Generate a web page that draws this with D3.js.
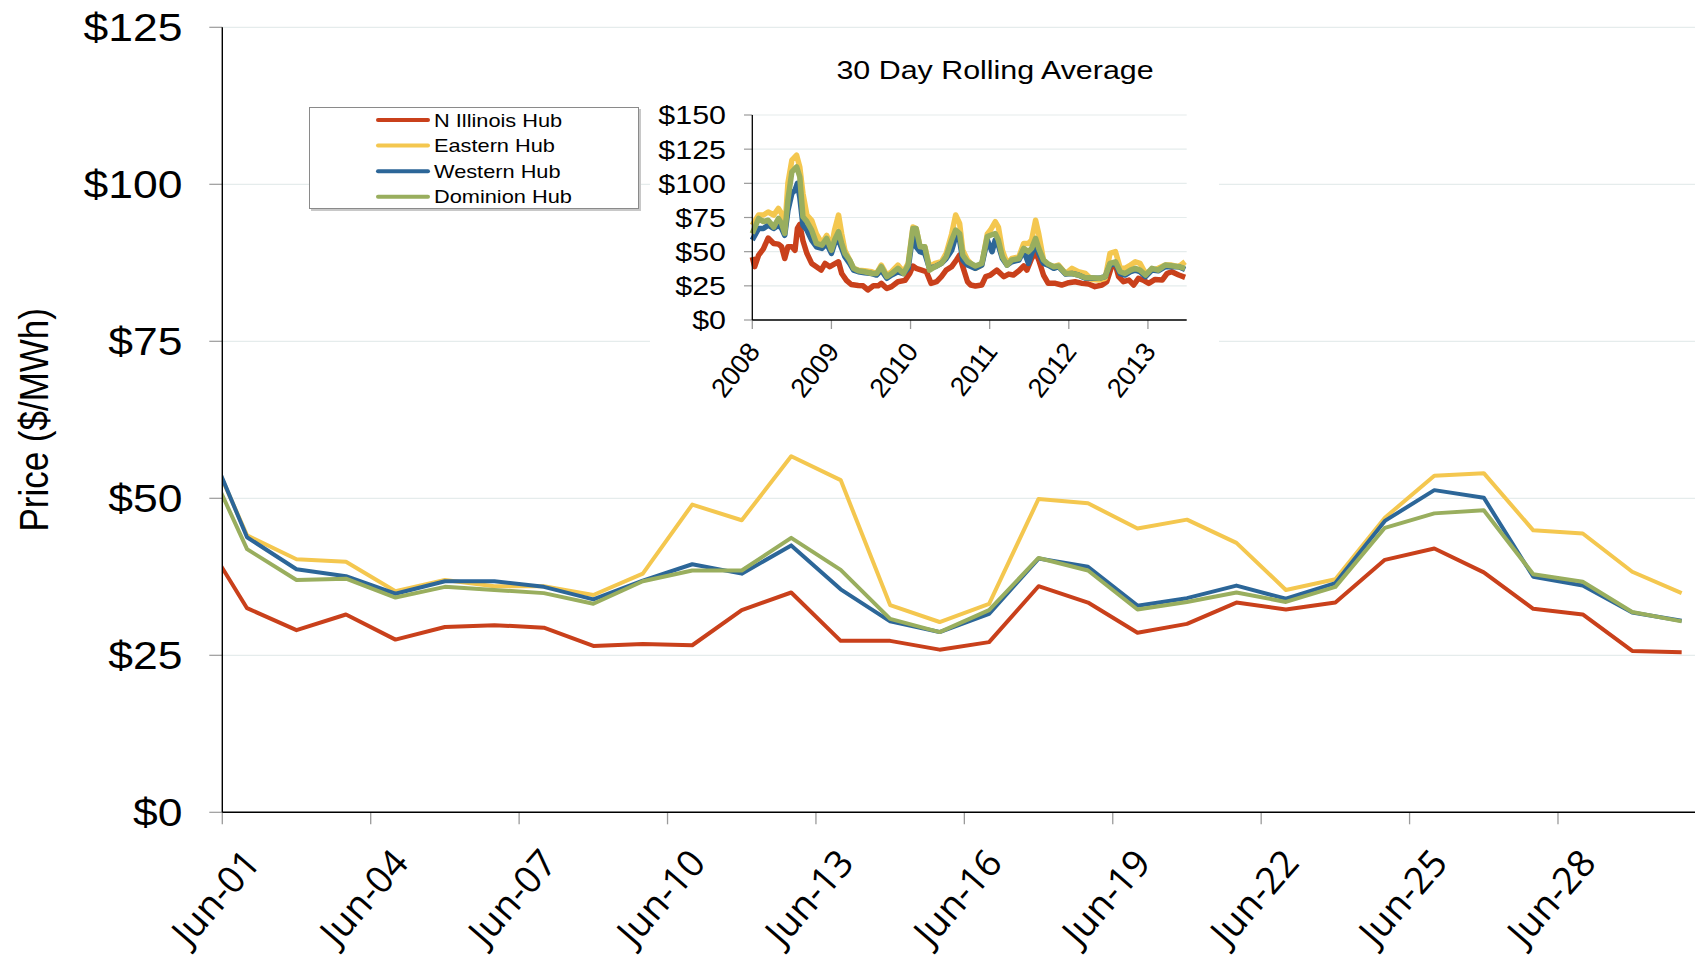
<!DOCTYPE html>
<html>
<head>
<meta charset="utf-8">
<script src="https://cdn.jsdelivr.net/npm/d3@7"></script>
<style>
  body { margin: 0; background: #fff; }
  svg { display: block; }
</style>
</head>
<body>
<svg id="chart"></svg>
<script>

// daily prices, June
var days = ["Jun-01","Jun-02","Jun-03","Jun-04","Jun-05","Jun-06","Jun-07","Jun-08","Jun-09","Jun-10",
  "Jun-11","Jun-12","Jun-13","Jun-14","Jun-15","Jun-16","Jun-17","Jun-18","Jun-19","Jun-20",
  "Jun-21","Jun-22","Jun-23","Jun-24","Jun-25","Jun-26","Jun-27","Jun-28","Jun-29","Jun-30"]

// value of May-31 (only the part after the axis shows)
var leadDay = "May-31"
var leadValues = [45.3, 61.9, 62.6, 59.1]

var nIllinois = [32.5, 29.0, 31.5, 27.5, 29.5, 29.8, 29.4, 26.5, 26.8, 26.6, 32.2, 35.0, 27.3, 27.3, 25.9,
  27.1, 36.0, 33.4, 28.6, 30.0, 33.4, 32.3, 33.4, 40.2, 42.0, 38.2, 32.4, 31.5, 25.7, 25.5]
var eastern = [44.1, 40.3, 39.9, 35.2, 37.0, 36.0, 36.0, 34.6, 38.0, 49.0, 46.5, 56.7, 52.9, 33.0, 30.3,
  33.2, 49.9, 49.2, 45.2, 46.6, 42.9, 35.4, 37.1, 46.9, 53.6, 54.0, 44.9, 44.4, 38.3, 34.9]
var western = [43.8, 38.7, 37.6, 34.8, 36.8, 36.8, 35.9, 33.9, 36.9, 39.5, 38.0, 42.5, 35.5, 30.4, 28.7,
  31.6, 40.4, 39.1, 32.9, 34.1, 36.1, 34.0, 36.5, 46.4, 51.3, 50.1, 37.5, 36.1, 31.8, 30.5]
var dominion = [41.9, 37.0, 37.2, 34.2, 35.9, 35.4, 34.9, 33.2, 36.8, 38.5, 38.5, 43.7, 38.6, 30.8, 28.7,
  32.2, 40.5, 38.5, 32.3, 33.5, 35.0, 33.5, 35.9, 45.3, 47.6, 48.1, 37.9, 36.7, 31.9, 30.4]

var hubNames = ["N Illinois Hub", "Eastern Hub", "Western Hub", "Dominion Hub"]
var hubColors = ["#C9401B", "#F4C74F", "#2C6698", "#99AE5E"]
var yTicks = [0, 25, 50, 75, 100, 125]

// 30 day rolling average, [year, $/MWh]
var insetNIllinois = [[2008.00,46],[2008.03,39],[2008.08,47.5],[2008.14,52],[2008.20,60],[2008.27,56],[2008.33,55.5],
  [2008.37,53.6],[2008.41,45],[2008.45,53.6],[2008.50,53.6],[2008.54,51],[2008.57,67],[2008.60,70],[2008.64,58],
  [2008.69,48.7],[2008.75,41.4],[2008.81,39],[2008.87,36.5],[2008.92,41.4],[2008.98,39],[2009.04,41],[2009.09,42.6],
  [2009.13,34],[2009.19,29],[2009.25,26],[2009.34,25.3],[2009.40,25],[2009.46,22],[2009.53,25],[2009.59,25],
  [2009.63,26.8],[2009.70,23],[2009.76,24.4],[2009.84,28],[2009.93,29],[2009.99,34],[2010.03,39.5],[2010.07,37.8],
  [2010.14,36.5],[2010.20,35.3],[2010.26,26.8],[2010.33,28],[2010.39,31.7],[2010.45,36.5],[2010.52,39],[2010.58,43.9],
  [2010.62,47.5],[2010.66,39],[2010.72,28],[2010.76,25.6],[2010.82,24.9],[2010.90,25.6],[2010.95,31.7],[2011.01,32.9],
  [2011.09,36.5],[2011.18,31.7],[2011.24,33.6],[2011.30,32.9],[2011.37,36],[2011.43,39.5],[2011.47,36.5],[2011.53,45],
  [2011.58,50],[2011.62,43.9],[2011.68,32.9],[2011.74,26.8],[2011.83,26.8],[2011.91,25.6],[2012.00,27.3],[2012.08,28],
  [2012.17,26.8],[2012.25,26.3],[2012.33,24.4],[2012.42,25.6],[2012.48,28],[2012.54,39],[2012.59,40.2],[2012.63,31.7],
  [2012.69,28],[2012.76,29.2],[2012.82,25.6],[2012.88,30.5],[2012.94,29.2],[2013.01,26.8],[2013.09,29.7],[2013.18,29.2],
  [2013.24,34],[2013.30,35.3],[2013.39,32.9],[2013.47,31.2]]
var insetEastern = [[2008.00,69.4],[2008.08,76.8],[2008.14,76.8],[2008.20,79],[2008.27,76.8],[2008.33,81.6],[2008.37,78],
  [2008.41,65.8],[2008.45,100],[2008.50,117],[2008.56,120.6],[2008.60,112],[2008.64,92.6],[2008.69,76.8],[2008.75,73],
  [2008.81,63],[2008.88,56],[2008.94,62],[2009.00,53.6],[2009.04,65.8],[2009.09,76.8],[2009.13,63],[2009.17,51],
  [2009.23,43.9],[2009.28,37.8],[2009.34,36.5],[2009.42,36],[2009.51,35.3],[2009.57,34],[2009.63,40.2],[2009.70,32.9],
  [2009.76,35.3],[2009.84,40.2],[2009.91,35.3],[2009.97,41.4],[2010.03,68],[2010.07,67],[2010.12,53.6],[2010.18,53.6],
  [2010.24,39],[2010.31,41.4],[2010.39,42.6],[2010.45,48.7],[2010.52,63],[2010.57,76.8],[2010.62,70.7],[2010.66,51],
  [2010.72,43.9],[2010.82,37.8],[2010.90,40.2],[2010.97,63],[2011.01,65.8],[2011.07,71.9],[2011.11,68],[2011.16,51],
  [2011.22,41.4],[2011.28,45],[2011.37,46.3],[2011.43,56],[2011.49,56],[2011.53,58.5],[2011.58,73],[2011.62,63],
  [2011.68,43.9],[2011.74,40.2],[2011.81,39],[2011.87,40.2],[2011.96,34],[2012.04,37.8],[2012.12,35.3],[2012.21,34],
  [2012.29,29.7],[2012.38,29.2],[2012.46,30.5],[2012.52,48.7],[2012.59,50],[2012.65,37.8],[2012.71,37.8],[2012.78,40.2],
  [2012.84,42.6],[2012.90,41.4],[2012.97,34],[2013.05,36.5],[2013.13,37.8],[2013.22,40.2],[2013.30,40.2],[2013.39,39],
  [2013.47,42.6]]
var insetWestern = [[2008.00,58.5],[2008.08,67],[2008.14,67],[2008.20,69.4],[2008.27,67],[2008.33,69.4],[2008.37,67],
  [2008.41,62],[2008.45,80],[2008.50,92.6],[2008.54,95],[2008.57,100],[2008.60,90],[2008.64,69.4],[2008.69,65.8],
  [2008.75,58.5],[2008.81,53.6],[2008.88,52.4],[2008.94,56],[2009.00,48.7],[2009.04,56],[2009.09,58.5],[2009.13,52.4],
  [2009.17,46.3],[2009.23,41.4],[2009.28,36.5],[2009.34,35.3],[2009.42,34.6],[2009.51,34],[2009.57,32.9],[2009.63,36.5],
  [2009.70,30.5],[2009.76,32.9],[2009.84,35.3],[2009.91,34],[2009.97,37.8],[2010.03,63],[2010.07,53.6],[2010.12,50],
  [2010.18,48.7],[2010.24,37.8],[2010.31,39],[2010.39,41.4],[2010.45,45],[2010.52,51],[2010.57,61],[2010.62,58.5],
  [2010.66,43.9],[2010.72,40.2],[2010.82,37.8],[2010.90,40.2],[2010.97,58.5],[2011.03,50],[2011.07,58.5],[2011.11,54.8],
  [2011.16,45],[2011.22,40.2],[2011.28,42.6],[2011.37,43.9],[2011.43,51],[2011.49,41.4],[2011.53,48.7],[2011.58,56],
  [2011.62,48.7],[2011.68,41.4],[2011.74,40.2],[2011.81,37.8],[2011.87,39],[2011.96,33.6],[2012.04,34],[2012.12,32.9],
  [2012.21,30.5],[2012.29,30.5],[2012.38,30.5],[2012.46,31.7],[2012.52,40.2],[2012.59,41.4],[2012.65,34],[2012.71,32.9],
  [2012.78,35.3],[2012.84,36.5],[2012.90,35.3],[2012.97,31.7],[2013.05,36.5],[2013.13,36],[2013.22,39],[2013.30,39],
  [2013.39,39],[2013.47,37]]
var insetDominion = [[2008.00,63.3],[2008.08,74.3],[2008.14,72],[2008.20,73],[2008.27,68],[2008.33,74.3],[2008.37,70.7],
  [2008.41,63.3],[2008.45,87.7],[2008.50,108.4],[2008.56,112],[2008.60,104.8],[2008.64,75.5],[2008.69,72],[2008.75,65.8],
  [2008.81,56],[2008.88,54.8],[2008.94,59.7],[2009.00,51],[2009.04,58.5],[2009.09,64.6],[2009.13,56],[2009.17,48.7],
  [2009.23,43.9],[2009.28,37.8],[2009.34,36],[2009.42,35.3],[2009.51,34],[2009.57,34],[2009.63,39],[2009.70,31.7],
  [2009.76,34],[2009.84,37.8],[2009.91,34],[2009.97,40.2],[2010.03,67],[2010.07,67],[2010.12,53.6],[2010.18,53.6],
  [2010.24,36.5],[2010.31,39],[2010.39,41.4],[2010.45,46.3],[2010.52,58.5],[2010.57,65.8],[2010.62,63.3],[2010.66,47.5],
  [2010.72,42.6],[2010.82,39.5],[2010.90,41.4],[2010.97,61],[2011.01,62],[2011.07,63.3],[2011.11,58.5],[2011.16,46.3],
  [2011.22,40.2],[2011.28,43.9],[2011.37,45],[2011.43,52.4],[2011.49,50],[2011.53,52.4],[2011.58,59.7],[2011.62,52.4],
  [2011.68,43.9],[2011.74,40.9],[2011.81,39],[2011.87,39.5],[2011.96,34],[2012.04,34],[2012.12,32.9],[2012.21,30.9],
  [2012.29,30.9],[2012.38,30.5],[2012.46,31.7],[2012.52,41.4],[2012.59,42.6],[2012.65,35.3],[2012.71,34],[2012.78,36.5],
  [2012.84,37.8],[2012.90,36.5],[2012.97,32.9],[2013.05,37.8],[2013.13,36.5],[2013.22,40.2],[2013.30,39.7],[2013.39,39],
  [2013.47,37.8]]
var insetYears = [2008, 2009, 2010, 2011, 2012, 2013]
var insetYTicks = [0, 25, 50, 75, 100, 125, 150]
var insetTitle = "30 Day Rolling Average"
var yTitle = "Price ($/MWh)"


var width = 1695
var height = 959
var SX = 1.17   // text in the picture is drawn a bit wide
var arial = "'Liberation Sans', Arial, sans-serif"
var gridColor = "#E5ECEC"
var tickColor = "#9a9a9a"

var svg = d3.select("#chart").attr("width", width).attr("height", height)
svg.append("rect").attr("width", width).attr("height", height).attr("fill", "#fff")

// ---------- main chart ----------
var plotLeft = 222.3, plotTop = 27.3, plotBottom = 812.3, dayW = 49.47

var x = d3.scaleLinear().domain([0, days.length]).range([plotLeft, plotLeft + days.length * dayW])
var y = d3.scaleLinear().domain([0, 125]).range([plotBottom, plotTop])

var main = svg.append("g")

main.append("g").selectAll("line").data(yTicks).enter().append("line")
  .attr("x1", plotLeft).attr("x2", width)
  .attr("y1", d => y(d)).attr("y2", d => y(d))
  .attr("stroke", gridColor).attr("stroke-width", 1.2)

main.append("g").selectAll("line").data(yTicks).enter().append("line")
  .attr("x1", plotLeft - 13).attr("x2", plotLeft)
  .attr("y1", d => y(d)).attr("y2", d => y(d))
  .attr("stroke", tickColor).attr("stroke-width", 1.2)

main.append("g").selectAll("text").data(yTicks).enter().append("text")
  .attr("transform", d => `translate(182.5,${y(d)}) scale(${SX},1)`)
  .attr("dy", "0.36em")
  .attr("text-anchor", "end")
  .style("font", `38px ${arial}`)
  .attr("fill", "#000")
  .text(d => "$" + d)

main.append("text")
  .attr("transform", `translate(48,${(plotTop + plotBottom) / 2}) scale(${SX},1) rotate(-90)`)
  .attr("text-anchor", "middle")
  .style("font", `35px ${arial}`)
  .text(yTitle)

var labelIdx = d3.range(0, days.length, 3)

main.append("g").selectAll("line").data(labelIdx).enter().append("line")
  .attr("x1", d => x(d)).attr("x2", d => x(d))
  .attr("y1", plotBottom).attr("y2", plotBottom + 12)
  .attr("stroke", tickColor).attr("stroke-width", 1.3)

main.append("g").selectAll("text").data(labelIdx).enter().append("text")
  .attr("transform", d => `translate(${x(d + 0.5) + 15},864) rotate(-49)`)
  .attr("text-anchor", "end")
  .style("font", "37.5px 'Open Sans', sans-serif")
  .text(d => days[d])

svg.append("clipPath").attr("id", "plotclip")
  .append("rect").attr("x", plotLeft).attr("y", 0).attr("width", width - plotLeft).attr("height", height)

var series = [nIllinois, eastern, western, dominion].map((vals, k) => {
  var pts = [{i: -0.5, v: leadValues[k]}]
  vals.forEach((v, i) => pts.push({i: i + 0.5, v: v}))
  return pts
})

var line = d3.line().x(d => x(d.i)).y(d => y(d.v))

main.append("g").attr("clip-path", "url(#plotclip)")
  .selectAll("path").data(series).enter().append("path")
  .attr("d", line)
  .attr("fill", "none")
  .attr("stroke", (d, k) => hubColors[k])
  .attr("stroke-width", 4)
  .attr("stroke-linejoin", "round")

main.append("line").attr("x1", plotLeft).attr("x2", plotLeft).attr("y1", plotTop).attr("y2", plotBottom)
  .attr("stroke", "#000").attr("stroke-width", 1.4)
main.append("line").attr("x1", plotLeft).attr("x2", width).attr("y1", plotBottom).attr("y2", plotBottom)
  .attr("stroke", "#000").attr("stroke-width", 1.4)

// ---------- legend ----------
var lg = svg.append("g")
lg.append("rect").attr("x", 311).attr("y", 109).attr("width", 330).attr("height", 102).attr("fill", "#c8c8c8")
lg.append("rect").attr("x", 309.5).attr("y", 107.5).attr("width", 329).attr("height", 101)
  .attr("fill", "#fff").attr("stroke", "#8a8a8a").attr("stroke-width", 1)

var legendY = d3.scaleLinear().domain([0, 3]).range([120, 196.7])
lg.selectAll("line").data(hubNames).enter().append("line")
  .attr("x1", 378).attr("x2", 428)
  .attr("y1", (d, i) => legendY(i)).attr("y2", (d, i) => legendY(i))
  .attr("stroke", (d, i) => hubColors[i]).attr("stroke-width", 4).attr("stroke-linecap", "round")
lg.selectAll("text").data(hubNames).enter().append("text")
  .attr("transform", (d, i) => `translate(434,${legendY(i) + 6.6}) scale(${SX},1)`)
  .style("font", `18.6px ${arial}`)
  .text(d => d)

// ---------- inset ----------
var inset = svg.append("g")
inset.append("rect").attr("x", 650).attr("y", 36).attr("width", 569).attr("height", 374).attr("fill", "#fff")

var ix = d3.scaleLinear().domain([2008, 2013.49]).range([752.3, 1186.7])
var iy = d3.scaleLinear().domain([0, 150]).range([320, 115])

inset.append("text")
  .attr("transform", `translate(995,79) scale(${SX},1)`)
  .attr("text-anchor", "middle")
  .style("font", `26px ${arial}`)
  .text(insetTitle)

inset.append("g").selectAll("line").data(insetYTicks).enter().append("line")
  .attr("x1", ix.range()[0]).attr("x2", ix.range()[1])
  .attr("y1", d => iy(d)).attr("y2", d => iy(d))
  .attr("stroke", gridColor).attr("stroke-width", 1.2)

inset.append("g").selectAll("line").data(insetYTicks).enter().append("line")
  .attr("x1", 744).attr("x2", ix.range()[0])
  .attr("y1", d => iy(d)).attr("y2", d => iy(d))
  .attr("stroke", tickColor).attr("stroke-width", 1.2)

inset.append("g").selectAll("text").data(insetYTicks).enter().append("text")
  .attr("transform", d => `translate(726,${iy(d)}) scale(${SX},1)`)
  .attr("dy", "0.36em")
  .attr("text-anchor", "end")
  .style("font", `26px ${arial}`)
  .text(d => "$" + d)

inset.append("g").selectAll("line").data(insetYears).enter().append("line")
  .attr("x1", d => ix(d)).attr("x2", d => ix(d))
  .attr("y1", 320).attr("y2", 329)
  .attr("stroke", tickColor).attr("stroke-width", 1.3)

inset.append("g").selectAll("text").data(insetYears).enter().append("text")
  .attr("transform", d => `translate(${ix(d) + 9},352) rotate(-52)`)
  .attr("text-anchor", "end")
  .style("font", `27px ${arial}`)
  .text(d => d)

var iline = d3.line().x(d => ix(d[0])).y(d => iy(d[1]))

inset.append("g").selectAll("path")
  .data([insetNIllinois, insetEastern, insetWestern, insetDominion])
  .enter().append("path")
  .attr("d", iline)
  .attr("fill", "none")
  .attr("stroke", (d, k) => hubColors[k])
  .attr("stroke-width", 5.5)
  .attr("stroke-linejoin", "round")

inset.append("line").attr("x1", 752.3).attr("x2", 752.3).attr("y1", 115).attr("y2", 320)
  .attr("stroke", "#000").attr("stroke-width", 1.3)
inset.append("line").attr("x1", 752.3).attr("x2", 1186.7).attr("y1", 320).attr("y2", 320)
  .attr("stroke", "#000").attr("stroke-width", 1.3)

</script>
</body>
</html>
